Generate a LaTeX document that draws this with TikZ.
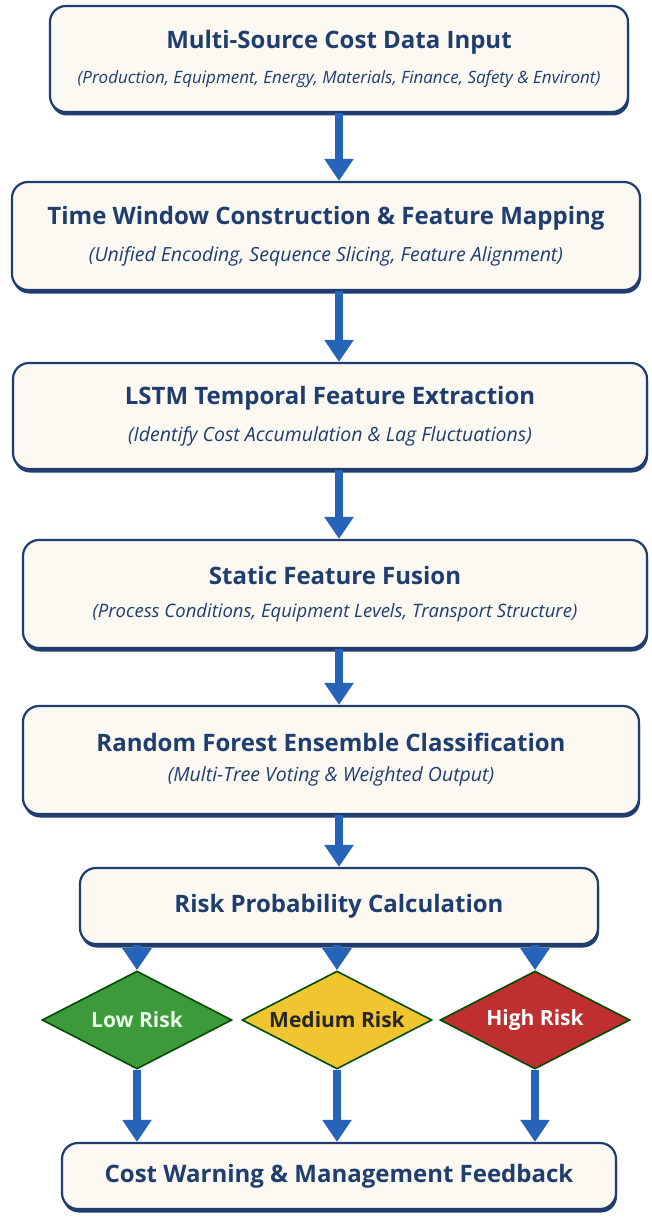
\documentclass[tikz,border=0pt]{standalone}
\usepackage{fontspec}
\setmainfont{Open Sans}
\usetikzlibrary{positioning,arrows.meta,shapes.geometric,shadows}

\definecolor{navy}{HTML}{1F3D6E}
\definecolor{cream}{HTML}{FBF9F2}
\definecolor{flowblue}{HTML}{2664B9}
\definecolor{riskgreen}{HTML}{3C9A3B}
\definecolor{riskyellow}{HTML}{F1C52F}
\definecolor{riskred}{HTML}{BF2F2F}

\tikzset{
  stagebox/.style={draw=navy, line width=2.2pt, fill=cream, rounded corners=16pt,
    inner sep=0pt, align=center, text=navy,
    drop shadow={shadow xshift=1pt, shadow yshift=-3.5pt, fill=navy, opacity=1}},
  riskbox/.style={diamond, draw=black!70!green, line width=1.6pt, aspect=2,
    minimum width=190pt, minimum height=98pt, inner sep=0pt,
    font=\fontsize{21}{24}\selectfont\bfseries},
  flow/.style={draw=flowblue, line width=8pt,
    -{Triangle[width=28pt,length=22pt]}},
  ttl/.style={font=\fontsize{24}{28}\selectfont\bfseries},
}
\newcommand{\ttlt}[1]{{\fontsize{24}{28}\selectfont\bfseries #1}}
\newcommand{\subt}[2]{{\fontsize{#1}{#1}\selectfont\itshape #2}}

\begin{document}
\begin{tikzpicture}[x=1pt,y=-1pt]
\useasboundingbox[fill=white] (0,0) rectangle (651,1217);
\coordinate (axis) at (339,0);

\node[stagebox, minimum width=578pt, minimum height=106pt] (input) at (339,59)
  {\ttlt{Multi-Source Cost Data Input}\\[15pt]
   \subt{17}{(Production, Equipment, Energy, Materials, Finance, Safety \& Environt)}};
\node[stagebox, minimum width=628pt, minimum height=108pt] (window) at (326,236)
  {\ttlt{Time Window Construction \& Feature Mapping}\\[15pt]
   \subt{19.5}{(Unified Encoding, Sequence Slicing, Feature Alignment)}};
\node[stagebox, minimum width=634pt, minimum height=106pt] (lstm) at (330,416)
  {\ttlt{LSTM Temporal Feature Extraction}\\[15pt]
   \subt{19.5}{(Identify Cost Accumulation \& Lag Fluctuations)}};
\node[stagebox, minimum width=624pt, minimum height=108pt] (fusion) at (335,594)
  {\ttlt{Static Feature Fusion}\\[17pt]
   \subt{18.5}{(Process Conditions, Equipment Levels, Transport Structure)}};
\node[stagebox, minimum width=616pt, minimum height=108pt] (forest) at (331,760)
  {\ttlt{Random Forest Ensemble Classification}\\[14pt]
   \subt{19.5}{(Multi-Tree Voting \& Weighted Output)}};
\node[stagebox, ttl, minimum width=518pt, minimum height=76pt] (prob) at (339,906)
  {Risk Probability Calculation};

\node[riskbox, fill=riskgreen, text=green!8] (low) at (137,1020) {Low Risk};
\node[riskbox, fill=riskyellow, text=black!85] (medium) at (337,1020) {Medium Risk};
\node[riskbox, fill=riskred, text=white] (high) at (535,1020) {High Risk};

\node[stagebox, ttl, minimum width=554pt, minimum height=66pt] (feedback) at (339,1176)
  {Cost Warning \& Management Feedback};

\draw[flow] (input.south -| axis) -- (window.north -| axis);
\draw[flow] (window.south -| axis) -- (lstm.north -| axis);
\draw[flow] (lstm.south -| axis) -- (fusion.north -| axis);
\draw[flow] (fusion.south -| axis) -- (forest.north -| axis);
\draw[flow] (forest.south -| axis) -- (prob.north -| axis);
\foreach \r in {low,medium,high} {
  \draw[flow] (prob.south -| \r.north) -- (\r.north);
  \draw[flow] (\r.south) -- (feedback.north -| \r.south);
}
\end{tikzpicture}
\end{document}
